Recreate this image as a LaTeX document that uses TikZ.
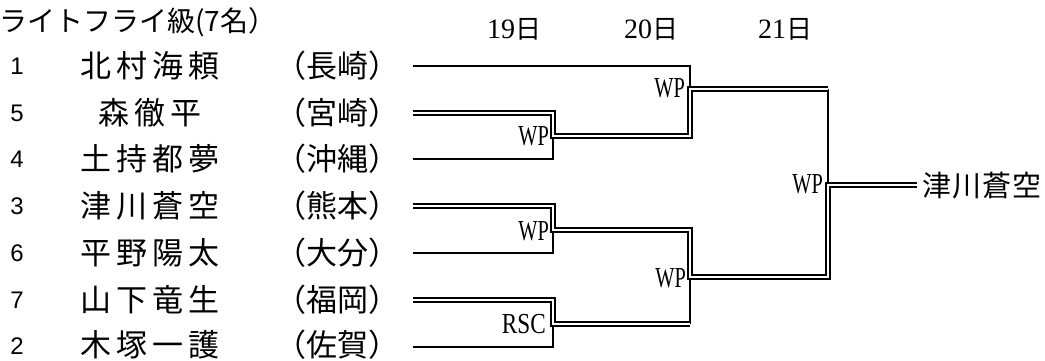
\documentclass[tikz,border=0pt]{standalone}
\usepackage{fontspec}
\newfontfamily\jp{Noto Sans CJK JP}
\newfontfamily\lserif{Liberation Serif}
\newfontfamily\lsans{Liberation Sans}
\newlength\sprw
\makeatletter
\def\spr@a#1{\ifx#1\relax\else\makebox[\sprw]{#1}\expandafter\spr@a\fi}
\newcommand\spr[2]{\setlength\sprw{#1}\spr@a#2\relax}
\makeatother
\tikzset{
  single/.style={line width=2.2pt},
  dbl/.style={double=white, double distance=1.3pt, line width=2pt},
  pname/.style={font=\jp\fontsize{31}{31}\selectfont, inner sep=0pt},
  pref/.style={font=\jp\fontsize{31}{31}\selectfont, inner sep=0pt},
  num/.style={font=\lsans\fontsize{24}{24}\selectfont, inner sep=0pt},
  res/.style={font=\lserif\fontsize{29}{29}\selectfont, inner sep=0pt, anchor=east},
  day/.style={inner sep=0pt},
}
\newcommand\daytxt[1]{{\lserif\fontsize{28}{28}\selectfont #1}{\jp\fontsize{26}{26}\selectfont 日}}
\begin{document}
\begin{tikzpicture}[x=1pt,y=-1pt]
\useasboundingbox (0,0) rectangle (1045,360);
% title and days
\node[inner sep=0pt, anchor=west, font=\jp\fontsize{28}{28}\selectfont] (title) at (-1,22) {ライトフライ級(7名）};
\node[day] (d19) at (514,29) {\daytxt{19}};
\node[day] (d20) at (651,29) {\daytxt{20}};
\node[day] (d21) at (785,29) {\daytxt{21}};
% seeds
\node[num] (k1) at (17,66) {1};
\node[num] (k5) at (17,113) {5};
\node[num] (k4) at (17,159) {4};
\node[num] (k3) at (17,206) {3};
\node[num] (k6) at (17,253) {6};
\node[num] (k7) at (17,300) {7};
\node[num] (k2) at (17,346) {2};
% names
\node[pname] (n1) at (150,66) {\spr{36pt}{北村海頼}};
\node[pname] (n5) at (150,113) {\spr{36pt}{森徹平}};
\node[pname] (n4) at (150,159) {\spr{36pt}{土持都夢}};
\node[pname] (n3) at (150,206) {\spr{36pt}{津川蒼空}};
\node[pname] (n6) at (150,253) {\spr{36pt}{平野陽太}};
\node[pname] (n7) at (150,300) {\spr{36pt}{山下竜生}};
\node[pname] (n2) at (150,345) {\spr{36pt}{木塚一護}};
% prefectures
\node[pref] (f1) at (337,66) {（長崎）};
\node[pref] (f5) at (337,113) {（宮崎）};
\node[pref] (f4) at (337,159) {（沖縄）};
\node[pref] (f3) at (337,206) {（熊本）};
\node[pref] (f6) at (337,253) {（大分）};
\node[pref] (f7) at (337,300) {（福岡）};
\node[pref] (f2) at (337,345) {（佐賀）};
% bracket coordinates
\coordinate (s1) at (413,66);
\coordinate (s5) at (413,113);
\coordinate (s4) at (413,159);
\coordinate (s3) at (413,206);
\coordinate (s6) at (413,253);
\coordinate (s7) at (413,300);
\coordinate (s2) at (413,347);
\coordinate (a1) at (553,136);
\coordinate (a2) at (553,230);
\coordinate (a3) at (553,324);
\coordinate (b1) at (690,89);
\coordinate (b2) at (690,277);
\coordinate (c) at (828,185);
\coordinate (e) at (917,185);
% single (losing) lines
\draw[single] (s1) -- (s1 -| b1) -- (b1);
\draw[single] (s4) -- (s4 -| a1) -- (a1);
\draw[single] (s6) -- (s6 -| a2) -- (a2);
\draw[single] (s2) -- (s2 -| a3) -- (a3);
\draw[single] (b2 |- a3) -- (b2);
\draw[single] (c |- b1) -- (c);
% double (winning) lines
\draw[dbl] (s5) -- (s5 -| a1) -- (a1) -- (a1 -| b1) -- (b1) -- (b1 -| c);
\draw[dbl] (s7) -- (s7 -| a3) -- (a3) -- (a3 -| b2);
\draw[dbl] (s3) -- (s3 -| a2) -- (a2) -- (a2 -| b2) -- (b2) -- (b2 -| c) -- (c) -- (e);
% results
\node[res] (r1) at (549,136) {\scalebox{0.7}[1]{WP}};
\node[res] (r2) at (549,231) {\scalebox{0.7}[1]{WP}};
\node[res] (r3) at (546,324) {\scalebox{0.8}[1]{RSC}};
\node[res] (r4) at (685,88) {\scalebox{0.7}[1]{WP}};
\node[res] (r5) at (686,278) {\scalebox{0.7}[1]{WP}};
\node[res] (r6) at (823,184) {\scalebox{0.7}[1]{WP}};
% winner
\node[pname, font=\jp\fontsize{29}{29}\selectfont] (win) at (982,186) {\spr{30pt}{津川蒼空}};
\end{tikzpicture}
\end{document}
